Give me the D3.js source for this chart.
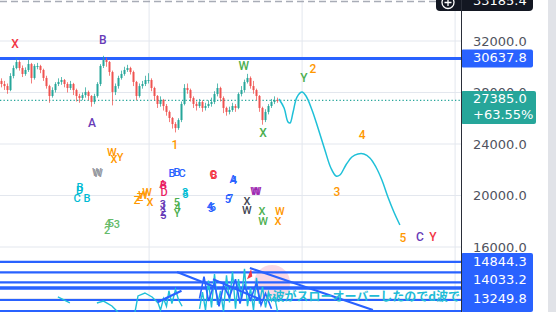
<!DOCTYPE html>
<html><head><meta charset="utf-8">
<script src="https://cdn.jsdelivr.net/npm/d3@7"></script>
<style>html,body{margin:0;padding:0;background:#fff;overflow:hidden}</style>
</head><body><svg id="c" width="556" height="312"></svg>
<script>
// ---------- DATA ----------
const opens=[28900,28660,28500,28190,29280,29900,30370,29900,29440,29750,30210,29130,30060,30060,29750,29130,28500,27730,28190,28660,28820,28970,28660,28350,28660,28190,27730,27570,27800,28040,27730,27260,27730,28660,30060,30520,30370,29590,28040,28500,29130,29440,29750,29900,29590,28820,27730,28500,28660,28970,28970,28350,27730,27110,27420,26950,26490,26020,25550,25240,25860,27110,28350,28190,27570,27110,26950,27260,26800,26950,27110,27260,27880,28350,27570,26800,26490,26640,26950,26800,27880,28190,28820,29130,28500,28190,27730,26800,25860,26490,26950,27260,27420];
const highs=[29100,28900,28700,29500,30100,30650,30500,30100,29950,30600,30300,30200,30300,30150,29850,29300,28600,28400,28800,29100,29200,29050,28800,28900,28750,28300,27900,28000,28400,28150,27800,27900,28800,30200,30850,30700,30450,29700,28700,29300,29700,30000,30150,30000,29700,28900,28700,28900,29300,29500,29100,28450,27800,27700,27500,27100,26600,26100,25700,26000,27300,28650,28700,28300,27700,27300,27500,27400,27200,27400,27600,28100,28700,28450,27700,26900,26900,27200,27100,28000,28500,29000,29450,29250,28900,28300,27800,26900,26700,27100,27500,27700,27600];
const lows=[28400,28200,27900,28100,29100,29800,29700,29200,29300,29600,28700,29000,29800,29500,28900,28300,27200,27600,28000,28500,28600,28400,28000,28200,27800,27300,27200,27400,27600,27400,26900,27100,27600,28500,29900,30000,29300,27000,27800,28300,29000,29300,29600,29400,28500,27400,27600,28300,28500,28700,28100,27400,26800,26900,26600,26200,25700,25200,24900,25100,25700,27000,27900,27300,26800,26600,26800,26500,26600,26800,26900,27100,27700,27300,26400,26200,26300,26500,26500,26700,27700,28000,28700,28300,27900,27400,26500,25500,25700,26300,26800,27100,27200];
const closes=[28660,28500,28190,29280,29900,30370,29900,29440,29750,30210,29130,30060,30060,29750,29130,28500,27730,28190,28660,28820,28970,28660,28350,28660,28190,27730,27570,27800,28040,27730,27260,27730,28660,30060,30520,30370,29590,28040,28500,29130,29440,29750,29900,29590,28820,27730,28500,28660,28970,28970,28350,27730,27110,27420,26950,26490,26020,25550,25240,25860,27110,28350,28190,27570,27110,26950,27260,26800,26950,27110,27260,27880,28350,27570,26800,26490,26640,26950,26800,27880,28190,28820,29130,28500,28190,27730,26800,25860,26490,26950,27260,27420,27385];

const projIdx=[92.5,94.2,95.5,96.2,97.2,98.5,100.2,101.5,103.5,105.5,107.8,109.8,111.5,112.8,114.8,116.8,118.8,120.8,122.8,124.8,126.8,128.8,130.8,132.8];
const projVal=[27495,26796,25709,25631,26485,27650,28039,27728,26641,25243,23535,22136,21515,21592,22369,22990,23223,23223,22913,22214,21204,19883,18719,17709];

const tickVals=[32000,28000,24000,20000,16000,12000];
const timeGrid=[49.2,100.2,151.2];

const levelVals=[30637.8,14844.3,14033.2,13249.8,12870,12760,11883,11029];
const levelLabels=[14844.3,14033.2,13249.8];
const lastPrice=27385.0, lastChange="+63.55%", topPrice=33185.4;

const waveText=["X","B","A","W","X","1","Y","2","4","3","5","C","Y"];
const waveIdx=[4.5,33.8,30.2,80.8,87.2,57.8,100.8,103.8,120.2,111.8,133.8,139.5,143.8];
const waveVal=[31689,32000,25553,29981,24777,23845,29049,29748,24621,20194,16621,16700,16700];
const waveColor=["#f23645","#673ab7","#673ab7","#4caf50","#4caf50","#ff9800","#4caf50","#ff9800","#ff9800","#ff9800","#ff9800","#673ab7","#f23645"];

const clText=["W","X","Y","W","W","B","D","C","B","Z","W","W","Z","X","4","3","2","5","B","B","C","A","B","D","3","1","2","5","5","4","Y","3","5","4","5","6","C","B","A","4","5","7","W","W","X","W","X","W","W","X"];
const clIdx=[36.8,37.5,39.5,31.8,32.2,26.2,26.0,25.2,28.5,45.2,47.2,48.5,46.2,49.5,35.5,38.5,35.2,36.5,56.8,58.5,60.2,53.8,54.0,54.2,53.8,54.0,53.8,54.0,58.5,58.7,58.5,61.2,61.3,69.5,69.8,70.5,70.5,70.8,77.2,77.5,75.5,76.2,84.5,85.0,81.8,81.8,86.8,87.2,92.8,92.2];
const clVal=[23301,22757,22913,21747,21670,20583,20350,19728,19728,19573,19961,20194,19800,19417,17787,17709,17243,17800,21670,21747,21670,20815,20700,20194,19262,19107,18641,18400,19417,19030,18560,20194,20050,19107,18950,19000,21592,21500,21204,21100,19650,19700,20272,20272,19495,18796,18719,17942,18719,17942];
const clColor=["#ff9800","#ff9800","#ff9800","#9598a1","#9598a1","#00bcd4","#00bcd4","#00bcd4","#00bcd4","#ff9800","#ff9800","#ff9800","#ff9800","#ff9800","#66bb6a","#66bb6a","#66bb6a","#66bb6a","#2962ff","#2962ff","#2962ff","#e91e63","#e91e63","#e91e63","#673ab7","#673ab7","#673ab7","#673ab7","#4caf50","#4caf50","#4caf50","#00bcd4","#00bcd4","#2962ff","#2962ff","#2962ff","#f23645","#f23645","#2962ff","#2962ff","#2962ff","#2962ff","#9c27b0","#9c27b0","#434651","#434651","#4caf50","#4caf50","#ff9800","#ff9800"];

const scribCyan1=[[18.8,12117],[22.8,11651]];
const scribCyan2=[[31.8,11651],[34,11800],[36.8,11418],[38.8,10952]];
const scribCyan3=[[44.5,10952],[45.5,12200],[47.8,12427],[50.2,12117],[52.2,11650],[53,11100],[54,12000],[55,11400],[55.8,12600],[56.8,11600],[58,12700],[59,11900],[60.2,11400]];
const scribCyan4=[[66,11200],[67,12500],[68,11100],[69,13400],[70,11300],[71,13900],[72,11500],[73,12600],[74,11000],[75,13800],[76,11700],[77,14100],[78,11200],[79,13500],[80,11900],[81,14300],[82,11400],[83,12800],[84,11100],[85,13600],[86,11600],[87,12900],[88,11300],[89,12500],[90,11800],[91,12200],[92,11000]];
const scribBlue1=[[66,12000],[67.5,13700],[69,11800],[71,13200],[72.5,11400],[74,13000],[76,12100],[78,13500],[79.5,11600],[81,13000],[83,11900],[85,13200],[86.5,11500],[88,12400],[90,11200]];
const diagBlue=[[[58.5,14058],[71.2,12893]],[[82.8,14369],[123.8,11107]],[[70.5,13500],[86.5,11900]],[[52,11700],[60,12600]]];
const redMark=[[81.8,13500],[83.2,14300],[83.6,13700]];
const pinkCenter=[90.2,13204];
const noteIdx=88.2, noteVal=12039;
const noteText="c波がスローオーバーしたのでd波で";

// ---------- CHART ----------
const W=556,H=312,axisX=461;
const svg=d3.select("#c");
const x=d3.scaleLinear().domain([0,153]).range([1.5,460.5]);
const y=d3.scaleLinear().domain([32000,16000]).range([41,247]);

svg.append("defs").append("clipPath").attr("id","pc").append("rect").attr("x",0).attr("y",0).attr("width",axisX).attr("height",H);
svg.append("rect").attr("x",548).attr("y",0).attr("width",8).attr("height",H).attr("fill","#e1e3e8");

const g=svg.append("g").attr("clip-path","url(#pc)");
// grid
g.selectAll(".hg").data(tickVals).join("line").attr("x1",0).attr("x2",axisX).attr("y1",d=>y(d)).attr("y2",d=>y(d)).attr("stroke","#e3e7ee").attr("stroke-width",1);
g.selectAll(".vg").data(timeGrid).join("line").attr("x1",d=>x(d)).attr("x2",d=>x(d)).attr("y1",0).attr("y2",H).attr("stroke","#e3e7ee").attr("stroke-width",1);
// top dashed
g.append("line").attr("x1",0).attr("x2",axisX).attr("y1",1.5).attr("y2",1.5).attr("stroke","#a8acb6").attr("stroke-width",1.3).attr("stroke-dasharray","7,4");

// pink circle
g.append("circle").attr("cx",x(pinkCenter[0])).attr("cy",y(pinkCenter[1])).attr("r",18).attr("fill","#f8c8d8").attr("opacity",0.7);

// horizontal levels
g.selectAll(".lv").data(levelVals).join("line").attr("x1",0).attr("x2",axisX).attr("y1",d=>y(d)).attr("y2",d=>y(d)).attr("stroke","#2962ff").attr("stroke-width",(d,i)=>i===0?3:2.2);

// scribbles
const ln=d3.line().x(d=>x(d[0])).y(d=>y(d[1]));
[scribCyan1,scribCyan2,scribCyan3,scribCyan4].forEach(s=>g.append("path").attr("d",ln(s)).attr("fill","none").attr("stroke","#1fc0d8").attr("stroke-width",1.4));
g.append("path").attr("d",ln(scribBlue1)).attr("fill","none").attr("stroke","#2962ff").attr("stroke-width",1.6);
diagBlue.forEach(s=>g.append("path").attr("d",ln(s)).attr("fill","none").attr("stroke","#2962ff").attr("stroke-width",2.2));
g.append("path").attr("d",ln(redMark)+"Z").attr("fill","#f23645");
g.append("text").attr("x",x(noteIdx)).attr("y",y(noteVal)).attr("dominant-baseline","middle").attr("font-family","'Noto Sans CJK JP'").attr("font-weight",700).attr("font-size",12).attr("fill","#22bcd6").text(noteText);

// last price dotted
g.append("line").attr("x1",0).attr("x2",axisX).attr("y1",y(lastPrice)).attr("y2",y(lastPrice)).attr("stroke","#26a69a").attr("stroke-width",1.2).attr("stroke-dasharray","1.3,2.2");

// candles
const idx=d3.range(closes.length);
const up="#26a69a",dn="#ef5350";
g.selectAll(".wk").data(idx).join("line").attr("x1",i=>x(i)).attr("x2",i=>x(i)).attr("y1",i=>y(highs[i])).attr("y2",i=>y(lows[i])).attr("stroke",i=>closes[i]>=opens[i]?up:dn).attr("stroke-width",1).attr("opacity",0.75);
g.selectAll(".bd").data(idx).join("rect").attr("x",i=>x(i)-1).attr("width",2)
 .attr("y",i=>y(Math.max(opens[i],closes[i]))).attr("height",i=>Math.max(1,Math.abs(y(opens[i])-y(closes[i]))))
 .attr("fill",i=>closes[i]>=opens[i]?up:dn);

// projection
g.append("path").attr("d",d3.line().x((d,i)=>x(d)).y((d,i)=>y(projVal[i])).curve(d3.curveCatmullRom)(projIdx)).attr("fill","none").attr("stroke","#1fc0d8").attr("stroke-width",1.5);

// wave labels
g.selectAll(".wl").data(waveText).join("text").attr("x",(d,i)=>x(waveIdx[i])).attr("y",(d,i)=>y(waveVal[i])).attr("text-anchor","middle").attr("dominant-baseline","middle")
 .attr("font-family","Roboto").attr("font-weight",500).attr("font-size",12).attr("fill",(d,i)=>waveColor[i]).text(d=>d);
g.selectAll(".cl").data(clText).join("text").attr("x",(d,i)=>x(clIdx[i])).attr("y",(d,i)=>y(clVal[i])).attr("text-anchor","middle").attr("dominant-baseline","middle")
 .attr("font-family","Roboto").attr("font-weight",500).attr("font-size",11).attr("fill",(d,i)=>clColor[i]).text(d=>d);

// axis
const fmt=d3.format(".1f");
const ax=svg.append("g").attr("transform",`translate(${axisX},0)`).call(d3.axisRight(y).tickValues(tickVals.slice(0,5)).tickFormat(fmt).tickSize(0).tickPadding(12));
ax.select(".domain").remove();
ax.selectAll("text").attr("font-family","DejaVu Sans").attr("font-size",13).attr("fill","#50535e");

// price labels
function tag(yc,h,w,fill,lines){
  svg.append("rect").attr("x",axisX).attr("y",yc-h/2).attr("width",w).attr("height",h).attr("rx",2).attr("fill",fill);
  lines.forEach((t,k)=>svg.append("text").attr("x",473).attr("y",yc-(lines.length-1)*8+k*16).attr("dominant-baseline","middle").attr("font-family","DejaVu Sans").attr("font-size",13).attr("fill","#fff").text(t));
}
tag(y(levelVals[0]),18,72,"#2962ff",[fmt(levelVals[0])]);
tag(y(lastPrice)+7,33,75,"#26a69a",[fmt(lastPrice),lastChange]);
svg.append("rect").attr("x",axisX).attr("y",253).attr("width",72).attr("height",59).attr("rx",2).attr("fill","#2962ff");
levelLabels.forEach((v,k)=>svg.append("text").attr("x",473).attr("y",262+k*18.5).attr("dominant-baseline","middle").attr("font-family","DejaVu Sans").attr("font-size",13).attr("fill","#fff").text(fmt(v)));

// top black tag
svg.append("rect").attr("x",436).attr("y",-10).attr("width",97).attr("height",21).attr("rx",4).attr("fill","#131722");
svg.append("text").attr("x",473).attr("y",1).attr("dominant-baseline","middle").attr("font-family","DejaVu Sans").attr("font-size",13).attr("fill","#fff").text(fmt(topPrice));
svg.append("circle").attr("cx",448).attr("cy",2.5).attr("r",6).attr("fill","none").attr("stroke","#fff").attr("stroke-width",1.3);
svg.append("path").attr("d","M444.5,2.5H451.5M448,-1V6").attr("stroke","#fff").attr("stroke-width",1.3);

// axis line
svg.append("line").attr("x1",axisX+0.5).attr("x2",axisX+0.5).attr("y1",0).attr("y2",H).attr("stroke","#2a2e39").attr("stroke-width",1);
</script></body></html>
